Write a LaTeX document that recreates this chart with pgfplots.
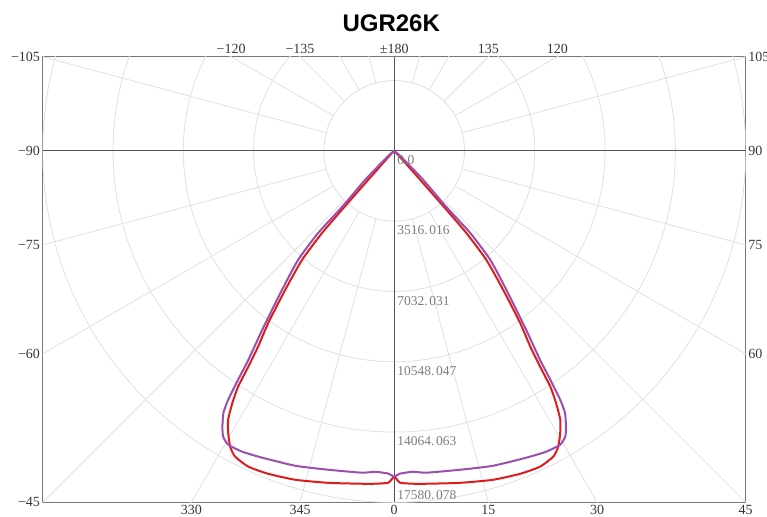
\documentclass[border=0pt]{standalone}
\usepackage{fontspec}
\setmainfont{Liberation Serif}
\newfontfamily\titlefont{Liberation Sans}
\usepackage{pgfplots}
\usepackage{pgfplotstable}
\pgfplotsset{compat=1.18}
\usetikzlibrary{calc}
\definecolor{cred}{RGB}{222,28,28}
\definecolor{cpurple}{RGB}{155,78,175}
\definecolor{gridc}{RGB}{224,224,224}
\definecolor{labc}{RGB}{55,55,55}
\definecolor{radc}{RGB}{125,125,125}
\definecolor{axc}{RGB}{85,85,85}
\definecolor{boxc}{RGB}{120,120,120}

% C0-C180 plane: angle (deg from nadir), intensity
\pgfplotstableread{
a I
-90 0
-43.5 400
-41.9 1950
-41.6 3720
-41.3 5460
-40.2 7130
-38.1 8830
-36.2 10660
-34.8 11930
-34.05 13040
-33.5 14150
-32.7 14980
-31.7 15810
-30.5 16360
-29.0 16920
-27.5 17240
-24.8 17400
-21.3 17340
-16.7 17180
-11.2 16930
-5.5 16730
-3.3 16680
-1 16600
0 16300
1 16600
3.3 16680
5.5 16730
11.2 16930
16.7 17180
21.3 17340
24.8 17400
27.5 17240
29.0 16920
30.5 16360
31.7 15810
32.7 14980
33.5 14150
34.05 13040
34.8 11930
36.2 10660
38.1 8830
40.2 7130
41.3 5460
41.6 3720
41.9 1950
43.5 400
90 0
}\redtab

% C90-C270 plane
\pgfplotstableread{
a I
-90 0
-49 460
-45 2050
-42.9 3820
-42.8 5590
-41.4 7260
-38.9 8930
-36.4 11120
-34.9 12750
-34.3 13850
-33.7 14960
-33.1 15640
-31.9 16260
-30.9 16660
-29.45 16880
-26.8 16860
-23.3 16710
-17.4 16510
-11.7 16290
-5.7 16180
-3.4 16080
-1 16150
0 16300
1 16150
3.4 16080
5.7 16180
11.7 16290
17.4 16510
23.3 16710
26.8 16860
29.45 16880
30.9 16660
31.9 16260
33.1 15640
33.7 14960
34.3 13850
34.9 12750
36.4 11120
38.9 8930
41.4 7260
42.8 5590
42.9 3820
45 2050
49 460
90 0
}\purpletab

\begin{document}
\begin{tikzpicture}[
  lab/.style={font=\fontsize{14pt}{16pt}\selectfont, text=labc, inner sep=2.5pt},
  rad/.style={font=\fontsize{13.5pt}{15pt}\selectfont, text=radc, inner sep=0pt}]
\begin{axis}[
  scale only axis, width=703pt, height=445.6pt,
  xmin=-17580.078, xmax=17580.078, ymin=-17580.078, ymax=4710,
  xtick=\empty, ytick=\empty,
  axis line style={draw=boxc, line width=0.9pt},
  clip=false,
]
\coordinate (bl) at (rel axis cs:0,0);
\coordinate (tr) at (rel axis cs:1,1);
\begin{scope}
\clip (axis cs:-17580.078,-17580.078) rectangle (axis cs:17580.078,4710);
\pgfplotsinvokeforeach{1,2,3,4,5}{
  \draw[gridc, line width=0.8pt] (axis cs:0,0) circle[radius=#1*70.3pt];
}
\pgfplotsinvokeforeach{15,30,45,60,75,105,120,135,150,165,195,210,225,240,255,285,300,315,330,345}{
  \draw[gridc, line width=0.8pt] (axis cs:0,0) ++(#1-90:70.3pt) -- ++(#1-90:700pt);
}
\end{scope}
\draw[axc, line width=0.9pt] (axis cs:-17580.078,0) -- (axis cs:17580.078,0);
\draw[axc, line width=0.9pt] (axis cs:0,-17580.078) -- (axis cs:0,4710);

\addplot[cred, line width=2pt, line join=round, no marks, smooth, tension=0.35]
  table[x expr={\thisrow{I}*sin(\thisrow{a})}, y expr={-\thisrow{I}*cos(\thisrow{a})}] {\redtab};
\addplot[cpurple, line width=2pt, line join=round, no marks, smooth, tension=0.35]
  table[x expr={\thisrow{I}*sin(\thisrow{a})}, y expr={-\thisrow{I}*cos(\thisrow{a})}] {\purpletab};

% radial value labels
\node[rad, anchor=north west, xshift=3pt, yshift=-4pt] at (axis cs:0,0) {0.0};
\node[rad, anchor=north west, xshift=3pt, yshift=-4.5pt] at (axis cs:0,-3516.016) {3516.\kern1.5pt016};
\node[rad, anchor=north west, xshift=3pt, yshift=-4.5pt] at (axis cs:0,-7032.031) {7032.\kern1.5pt031};
\node[rad, anchor=north west, xshift=3pt, yshift=-4.5pt] at (axis cs:0,-10548.047) {10548.\kern1.5pt047};
\node[rad, anchor=north west, xshift=3pt, yshift=-4.5pt] at (axis cs:0,-14064.063) {14064.\kern1.5pt063};
\node[rad, anchor=south west, xshift=3pt, yshift=2pt] at (axis cs:0,-17580.078) {17580.\kern1.5pt078};

% angle labels: left
\node[lab, anchor=east] at (axis cs:-17580.078,4710) {−105};
\node[lab, anchor=east] at (axis cs:-17580.078,0) {−90};
\node[lab, anchor=east] at (axis cs:-17580.078,-4711) {−75};
\node[lab, anchor=east] at (axis cs:-17580.078,-10150) {−60};
\node[lab, anchor=east] at (axis cs:-17580.078,-17580.078) {−45};
% right
\node[lab, anchor=west] at (axis cs:17580.078,4710) {105};
\node[lab, anchor=west] at (axis cs:17580.078,0) {90};
\node[lab, anchor=west] at (axis cs:17580.078,-4711) {75};
\node[lab, anchor=west] at (axis cs:17580.078,-10150) {60};
% bottom
\node[lab, anchor=north] at (axis cs:-10150,-17580.078) {330};
\node[lab, anchor=north] at (axis cs:-4711,-17580.078) {345};
\node[lab, anchor=north] at (axis cs:0,-17580.078) {0};
\node[lab, anchor=north] at (axis cs:4711,-17580.078) {15};
\node[lab, anchor=north] at (axis cs:10150,-17580.078) {30};
\node[lab, anchor=north] at (axis cs:17580.078,-17580.078) {45};
% top
\node[lab, anchor=south] at (axis cs:-8158,4710) {−120};
\node[lab, anchor=south] at (axis cs:-4710,4710) {−135};
\node[lab, anchor=south] at (axis cs:0,4710) {±180};
\node[lab, anchor=south] at (axis cs:4710,4710) {135};
\node[lab, anchor=south] at (axis cs:8158,4710) {120};
% title
\node[anchor=base, xshift=-3pt, yshift=24.7pt, font=\titlefont\bfseries\fontsize{24pt}{28pt}\selectfont, text=black]
  at (axis cs:0,4710) {UGR26K};
\end{axis}
\pgfresetboundingbox
\path ($(bl)+(-42.7pt,-13.7pt)$) rectangle ($(tr)+(21.3pt,56.7pt)$);
\end{tikzpicture}
\end{document}
